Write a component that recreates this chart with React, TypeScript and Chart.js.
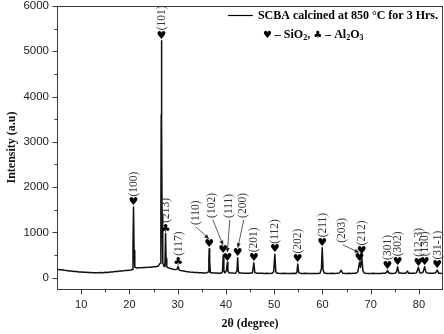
import React, { useEffect, useRef } from "react";
import { Chart, registerables } from "chart.js";

Chart.register(...registerables);

// ---- data ----
const twoTheta = [
  5.0, 5.5, 6.0, 6.5, 7.0, 7.5, 8.0, 8.5, 9.0, 9.5, 10.0, 10.5, 11.0, 11.5, 12.0, 12.5, 13.0, 13.5, 14.0, 14.5,
  15.0, 15.5, 16.0, 16.5, 17.0, 17.5, 18.0, 18.5, 19.0, 19.5, 20.0, 20.4, 20.62, 20.75, 20.86, 20.97, 21.12, 21.5,
  22.0, 22.5, 23.0, 23.5, 24.0, 24.5, 25.0, 25.5, 26.0, 26.38, 26.53, 26.6, 26.65, 26.71, 26.78, 26.92, 27.2,
  27.38, 27.5, 27.6, 27.75, 28.0, 28.5, 29.0, 29.5, 29.9, 30.1, 30.3, 30.6, 31.0, 31.5, 32.0, 32.5, 33.0, 33.5,
  34.0, 34.5, 35.0, 35.5, 36.0, 36.35, 36.47, 36.55, 36.64, 36.8, 37.2, 37.6, 38.0, 38.5, 39.0, 39.3, 39.45,
  39.58, 39.8, 40.1, 40.3, 40.42, 40.6, 41.0, 41.5, 42.0, 42.3, 42.45, 42.58, 42.8, 43.2, 43.6, 44.0, 44.5, 45.0,
  45.5, 45.8, 46.0, 46.5, 47.0, 47.5, 48.0, 48.5, 49.0, 49.5, 49.9, 50.15, 50.35, 50.6, 51.0, 51.5, 52.0, 52.5,
  53.0, 53.5, 54.0, 54.5, 54.72, 54.9, 55.1, 55.5, 56.0, 56.5, 57.0, 57.5, 58.0, 58.5, 59.0, 59.5, 59.8, 59.97,
  60.15, 60.4, 61.0, 61.5, 62.0, 62.5, 63.0, 63.5, 63.9, 64.2, 64.6, 65.0, 65.5, 66.0, 66.5, 67.0, 67.35, 67.7,
  67.9, 68.15, 68.4, 68.7, 69.0, 69.5, 70.0, 70.5, 71.0, 71.5, 72.0, 72.5, 73.0, 73.3, 73.5, 73.7, 74.0, 74.5,
  75.0, 75.35, 75.6, 75.85, 76.3, 76.8, 77.3, 77.6, 77.9, 78.5, 79.0, 79.5, 79.9, 80.2, 80.6, 80.9, 81.2, 81.5,
  82.0, 82.5, 83.0, 83.5, 83.8, 84.1, 84.5, 85.0,
];
const intensity = [
  185, 176, 174, 163, 160, 149, 147, 138, 136, 128, 127, 120, 119, 114, 113, 108, 109, 107, 112, 111,
  118, 117, 124, 128, 134, 138, 146, 147, 156, 158, 166, 170, 182, 700, 1560, 600, 232, 212,
  222, 218, 226, 224, 233, 230, 240, 243, 256, 320, 1500, 3600, 5230, 3300, 1400, 330, 245,
  320, 980, 420, 245, 218, 205, 188, 178, 185, 250, 172, 160, 152, 140, 132, 124, 120, 114,
  113, 109, 108, 104, 106, 125, 420, 640, 360, 112, 104, 101, 102, 99, 100, 128, 500,
  160, 106, 150, 340, 150, 108, 104, 101, 100, 150, 440, 140, 104, 101, 98, 100, 97, 99,
  108, 330, 112, 98, 96, 99, 94, 97, 95, 97, 128, 520, 130, 99, 96, 94, 96, 93,
  95, 94, 96, 95, 120, 300, 112, 95, 93, 96, 92, 95, 93, 95, 94, 98, 190, 660,
  170, 101, 95, 93, 96, 94, 96, 101, 165, 100, 95, 93, 96, 94, 97, 98, 130, 340,
  230, 480, 150, 101, 96, 95, 93, 96, 93, 95, 94, 96, 96, 118, 160, 110, 96, 95,
  97, 125, 240, 110, 97, 96, 100, 145, 98, 96, 97, 106, 230, 110, 104, 130, 240, 112,
  98, 96, 98, 110, 170, 100, 96, 95,
];

const xTickValues = [10, 20, 30, 40, 50, 60, 70, 80];
const xMinorValues = [15, 25, 35, 45, 55, 65, 75];
const yTickValues = [0, 1000, 2000, 3000, 4000, 5000, 6000];
const yMinorValues = [500, 1500, 2500, 3500, 4500, 5500];

// peak annotations
const peakAngles = [20.86, 26.65, 27.5, 30.1, 36.55, 39.45, 40.3, 42.45, 45.8, 50.15, 54.9, 59.97, 67.7, 68.15, 73.5, 75.6, 79.9, 81.2, 83.8];
const peakTops = [1560, 5230, 980, 250, 640, 500, 340, 440, 330, 520, 300, 660, 340, 480, 160, 240, 230, 240, 170];
const peakLabels = ["(100)", "(101)", "(213)", "(117)", "(110)", "(102)", "(111)", "(200)", "(201)", "(112)", "(202)", "(211)", "(203)", "(212)", "(301)", "(302)", "(12-3)", "(130)", "(31-1)"];
const peakPhases = ["SiO2", "SiO2", "Al2O3", "Al2O3", "SiO2", "SiO2", "SiO2", "SiO2", "SiO2", "SiO2", "SiO2", "SiO2", "SiO2", "SiO2", "SiO2", "SiO2", "SiO2", "SiO2", "SiO2"];
// labels moved away from their peak (with an arrow), in data coordinates; null = directly above
const labelAngles: (number | null)[] = [null, null, null, null, 33.6, 37.1, 40.6, 43.5, null, null, null, null, 64.0, null, null, null, null, null, null];
const labelLevels: (number | null)[] = [null, null, null, null, 1165, 1320, 1320, 1320, null, null, null, null, 770, null, null, null, null, null, null];

const seriesLabel = "SCBA calcined at 850 °C for 3 Hrs.";
const xTitle = "2θ (degree)";
const yTitle = "Intensity (a.u)";

const SERIF = '"Liberation Serif", "Times New Roman", serif';
const SANS = '"Liberation Sans", Arial, sans-serif';
const SYM = '"DejaVu Sans", sans-serif';

const decorPlugin = {
  id: "decor",
  afterDraw(chart: any) {
    const { ctx, chartArea: a, scales } = chart;
    const xs = scales.x;
    const ys = scales.y;
    ctx.save();
    // frame
    ctx.strokeStyle = "#3a3a3a";
    ctx.lineWidth = 1;
    ctx.strokeRect(Math.round(a.left) + 0.5, Math.round(a.top) + 0.5, Math.round(a.right - a.left) - 1, Math.round(a.bottom - a.top));
    // ticks
    ctx.beginPath();
    const bx = Math.round(a.bottom) + 0.5;
    xTickValues.forEach((v) => {
      const p = Math.round(xs.getPixelForValue(v)) + 0.5;
      ctx.moveTo(p, bx); ctx.lineTo(p, bx + 5);
    });
    xMinorValues.forEach((v) => {
      const p = Math.round(xs.getPixelForValue(v)) + 0.5;
      ctx.moveTo(p, bx); ctx.lineTo(p, bx + 3);
    });
    const lx = Math.round(a.left) + 0.5;
    yTickValues.forEach((v) => {
      const p = Math.round(ys.getPixelForValue(v)) + 0.5;
      ctx.moveTo(lx, p); ctx.lineTo(lx - 5, p);
    });
    yMinorValues.forEach((v) => {
      const p = Math.round(ys.getPixelForValue(v)) + 0.5;
      ctx.moveTo(lx, p); ctx.lineTo(lx - 3, p);
    });
    ctx.stroke();

    // peak markers and labels
    peakAngles.forEach((ang, i) => {
      const px = xs.getPixelForValue(ang);
      const py = ys.getPixelForValue(peakTops[i]);
      const mc = py - 4.5;
      ctx.fillStyle = "#000";
      ctx.font = `bold 11px ${SYM}`;
      ctx.textAlign = "center";
      ctx.textBaseline = "middle";
      ctx.fillText(peakPhases[i] === "SiO2" ? "\u2665" : "\u2663", px, mc);
      const markerTop = mc - 5;
      let tx = px;
      let ty = markerTop - 1;
      const la = labelAngles[i];
      const ll = labelLevels[i];
      if (la !== null && ll !== null) {
        tx = xs.getPixelForValue(la);
        ty = ys.getPixelForValue(ll);
        // arrow
        const sx = tx + 1, sy = ty + 2;
        const ex = px, ey = markerTop;
        const ang2 = Math.atan2(ey - sy, ex - sx);
        ctx.strokeStyle = "#333";
        ctx.lineWidth = 0.8;
        ctx.beginPath();
        ctx.moveTo(sx, sy);
        ctx.lineTo(ex - 4 * Math.cos(ang2), ey - 4 * Math.sin(ang2));
        ctx.stroke();
        ctx.fillStyle = "#222";
        ctx.beginPath();
        ctx.moveTo(ex, ey);
        ctx.lineTo(ex - 5 * Math.cos(ang2) + 2 * Math.sin(ang2), ey - 5 * Math.sin(ang2) - 2 * Math.cos(ang2));
        ctx.lineTo(ex - 5 * Math.cos(ang2) - 2 * Math.sin(ang2), ey - 5 * Math.sin(ang2) + 2 * Math.cos(ang2));
        ctx.closePath();
        ctx.fill();
      }
      ctx.save();
      ctx.translate(tx, ty);
      ctx.rotate(-Math.PI / 2);
      ctx.fillStyle = "#333";
      ctx.font = `11.5px ${SERIF}`;
      ctx.textAlign = "left";
      ctx.textBaseline = "middle";
      ctx.fillText(peakLabels[i], 0, 0.5);
      ctx.restore();
    });

    // legend
    const bold = `bold 12px ${SERIF}`;
    ctx.font = bold;
    ctx.fillStyle = "#000";
    ctx.textAlign = "left";
    ctx.textBaseline = "middle";
    const w = ctx.measureText(seriesLabel).width;
    const textLeft = a.right - 5 - w;
    const ly1 = a.top + 10;
    ctx.fillText(seriesLabel, textLeft, ly1);
    ctx.strokeStyle = "#000";
    ctx.lineWidth = 1.2;
    ctx.beginPath();
    ctx.moveTo(textLeft - 30, ly1 - 0.5);
    ctx.lineTo(textLeft - 5, ly1 - 0.5);
    ctx.stroke();

    const ly2 = a.top + 29;
    const sub = `bold 8px ${SERIF}`;
    const sym = `bold 10px ${SYM}`;
    const segs = [
      { t: "\u2665", f: sym, dy: 0 },
      { t: " \u2013 SiO", f: bold, dy: 0 },
      { t: "2", f: sub, dy: 3 },
      { t: ", ", f: bold, dy: 0 },
      { t: "\u2663", f: sym, dy: 0 },
      { t: " \u2013 Al", f: bold, dy: 0 },
      { t: "2", f: sub, dy: 3 },
      { t: "O", f: bold, dy: 0 },
      { t: "3", f: sub, dy: 3 },
    ];
    let cx = textLeft + 5;
    segs.forEach((s) => {
      ctx.font = s.f;
      ctx.fillText(s.t, cx, ly2 + s.dy);
      cx += ctx.measureText(s.t).width;
    });
    ctx.restore();
  },
};

export default function App() {
  const ref = useRef<HTMLCanvasElement>(null);
  useEffect(() => {
    document.body.style.margin = "0";
    const canvas = ref.current;
    if (!canvas) return;
    const chart = new Chart(canvas, {
      type: "line",
      data: {
        datasets: [
          {
            label: seriesLabel,
            data: twoTheta.map((x, i) => ({ x, y: intensity[i] })),
            borderColor: "#111",
            borderWidth: 1.5,
            borderJoinStyle: "round",
            pointRadius: 0,
            tension: 0,
            fill: false,
          },
        ],
      },
      options: {
        responsive: false,
        animation: false,
        devicePixelRatio: 1,
        layout: { padding: { top: 6, right: 1, bottom: 0, left: 0 } },
        plugins: { legend: { display: false }, tooltip: { enabled: false } },
        scales: {
          x: {
            type: "linear",
            min: 5,
            max: 85,
            afterBuildTicks: (s: any) => {
              s.ticks = xTickValues.map((v) => ({ value: v }));
            },
            afterFit: (s: any) => {
              s.height = 45;
              s.paddingLeft = 0;
              s.paddingRight = 0;
            },
            grid: { display: false, drawTicks: false },
            border: { display: false },
            ticks: {
              padding: 9,
              autoSkip: false,
              maxRotation: 0,
              color: "#222",
              font: { family: SANS, size: 11 },
              callback: (v: any) => String(v),
            },
            title: {
              display: true,
              text: xTitle,
              color: "#111",
              font: { family: SERIF, size: 12, weight: "bold" },
              padding: { top: 0, bottom: 3 },
            },
          },
          y: {
            type: "linear",
            min: -250,
            max: 6000,
            afterBuildTicks: (s: any) => {
              s.ticks = yTickValues.map((v) => ({ value: v }));
            },
            afterFit: (s: any) => {
              s.width = 57;
              s.paddingTop = 0;
              s.paddingBottom = 0;
            },
            grid: { display: false, drawTicks: false },
            border: { display: false },
            ticks: {
              padding: 8,
              color: "#222",
              font: { family: SANS, size: 11.5 },
              callback: (v: any) => String(v),
            },
            title: {
              display: true,
              text: yTitle,
              color: "#111",
              font: { family: SERIF, size: 12, weight: "bold" },
              padding: { top: 5, bottom: 0 },
            },
          },
        },
      },
      plugins: [decorPlugin],
    } as any);
    return () => chart.destroy();
  }, []);
  return (
    <div style={{ width: 444, height: 334 }}>
      <canvas ref={ref} width={444} height={334} style={{ display: "block" }} />
    </div>
  );
}
